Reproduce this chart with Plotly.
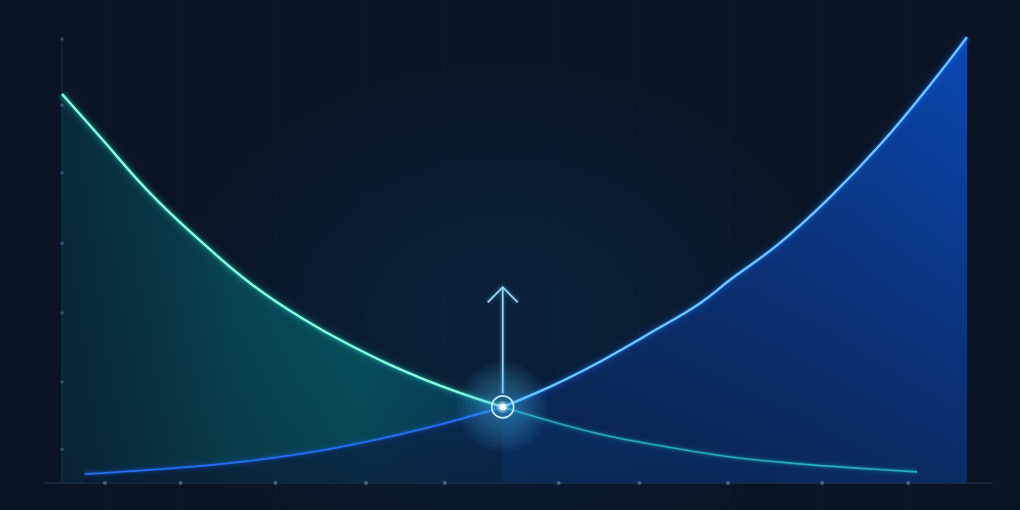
import plotly.graph_objects as go

# ---- data (abstract units) ----
x_green = [0, 0.42, 0.97, 1.52, 2.08, 2.63, 3.18, 4.0, 4.87, 5.94, 6.69, 7.41, 8.15, 8.9, 9.45]
y_green = [87.4, 77.8, 65.2, 54.6, 44.9, 37.3, 31.0, 23.3, 17.1, 11.0, 8.1, 5.8, 4.3, 3.2, 2.5]
x_blue = [0.25, 1, 2, 3, 4, 4.87, 5.39, 5.94, 6.5, 7.05, 7.38, 7.93, 8.49, 9.04, 9.59, 10.0]
y_blue = [2.0, 3.0, 4.8, 7.8, 12.2, 17.1, 21.6, 27.2, 33.7, 40.4, 45.6, 53.9, 64.3, 76.0, 89.4, 100.2]
x_ticks = [0.475, 1.31, 2.36, 3.36, 4.23, 5.49, 6.38, 7.36, 8.40, 9.35]
y_ticks = [7.6, 22.7, 38.2, 53.9, 69.7, 84.9, 99.8]
cross_x, cross_y = 4.87, 17.1
arrow_top = 44.0

BG = "#0a1424"
SM = 1.3
fig = go.Figure()

# soft background glow around the crossing
shapes = []
for k in range(12):
    r = 360 - k * 26
    shapes.append(dict(type="circle", xref="x", yref="y", xsizemode="pixel", ysizemode="pixel",
                       xanchor=cross_x, yanchor=cross_y + 20, x0=-r * 0.9, x1=r * 0.9, y0=-r * 0.7, y1=r * 0.7,
                       fillcolor="rgba(45,95,150,0.018)", line_width=0, layer="below"))
# axis lines
shapes.append(dict(type="line", xref="x", yref="y", x0=-0.19, x1=10.28, y0=0, y1=0,
                   line=dict(color="rgba(70,95,125,0.5)", width=1), layer="below"))
shapes.append(dict(type="line", xref="x", yref="y", x0=0, x1=0, y0=0, y1=100,
                   line=dict(color="rgba(70,95,125,0.4)", width=1), layer="below"))

# ---- fills ----
fig.add_trace(go.Scatter(x=x_green, y=y_green, mode="lines", line=dict(width=0, shape="spline", smoothing=SM),
                         fill="tozeroy",
                         fillgradient=dict(type="horizontal", colorscale=[
                             [0, "rgba(5,75,95,0.4)"], [0.2, "rgba(5,115,125,0.58)"],
                             [0.35, "rgba(5,130,135,0.62)"], [0.5, "rgba(5,105,155,0.5)"],
                             [1, "rgba(10,70,150,0.05)"]]),
                         hoverinfo="skip", showlegend=False))
fig.add_trace(go.Scatter(x=x_blue, y=y_blue, mode="lines", line=dict(width=0, shape="spline", smoothing=SM),
                         fill="tozeroy",
                         fillgradient=dict(type="horizontal", colorscale=[
                             [0, "rgba(10,70,170,0.08)"], [0.45, "rgba(10,75,190,0.45)"],
                             [1, "rgba(10,85,215,0.8)"]]),
                         hoverinfo="skip", showlegend=False))
# vertical darkening overlays
fig.add_trace(go.Scatter(x=x_blue, y=y_blue, mode="lines", line=dict(width=0, shape="spline", smoothing=SM),
                         fill="tozeroy",
                         fillgradient=dict(type="vertical", colorscale=[
                             [0, "rgba(10,20,36,0.55)"], [1, "rgba(10,20,36,0)"]]),
                         hoverinfo="skip", showlegend=False))
fig.add_trace(go.Scatter(x=x_green[:9], y=y_green[:9], mode="lines", line=dict(width=0, shape="spline", smoothing=SM),
                         fill="tozeroy",
                         fillgradient=dict(type="vertical", colorscale=[
                             [0, "rgba(10,20,36,0.3)"], [1, "rgba(10,20,36,0)"]]),
                         hoverinfo="skip", showlegend=False))

# ---- glowing lines ----
def glow_line(xs, ys, core, glow, width, alpha=1.0):
    for w, a in [(width * 7, 0.045), (width * 4, 0.1), (width * 2.2, 0.22)]:
        fig.add_trace(go.Scatter(x=xs, y=ys, mode="lines",
                                 line=dict(color=f"rgba({glow},{a * alpha})", width=w, shape="spline", smoothing=SM),
                                 hoverinfo="skip", showlegend=False))
    fig.add_trace(go.Scatter(x=xs, y=ys, mode="lines",
                             line=dict(color=f"rgba({core},{alpha})", width=width, shape="spline", smoothing=SM),
                             hoverinfo="skip", showlegend=False))

i = x_green.index(cross_x)
glow_line(x_green[:i + 1], y_green[:i + 1], "140,250,225", "30,220,190", 2.4)
glow_line(x_green[i:], y_green[i:], "45,190,200", "30,180,210", 1.6, 0.85)
j = x_blue.index(cross_x)
glow_line(x_blue[:j + 1], y_blue[:j + 1], "40,115,255", "30,100,255", 1.8, 0.9)
glow_line(x_blue[j:], y_blue[j:], "110,200,255", "30,120,255", 2.4)

# ---- arrow ----
ax_x = [cross_x, cross_x, None, cross_x - 0.166, cross_x, cross_x + 0.166]
ax_y = [cross_y + 3, arrow_top, None, arrow_top - 3.4, arrow_top, arrow_top - 3.4]
for w, a in [(10, 0.05), (5, 0.12)]:
    fig.add_trace(go.Scatter(x=ax_x, y=ax_y, mode="lines", line=dict(color=f"rgba(90,200,255,{a})", width=w),
                             hoverinfo="skip", showlegend=False))
fig.add_trace(go.Scatter(x=ax_x, y=ax_y, mode="lines", line=dict(color="rgba(160,225,255,0.95)", width=1.8),
                         hoverinfo="skip", showlegend=False))

# ---- crossing marker ----
for s in range(90, 14, -8):
    fig.add_trace(go.Scatter(x=[cross_x], y=[cross_y], mode="markers",
                             marker=dict(size=s, color="rgba(70,200,255,0.05)", line_width=0),
                             hoverinfo="skip", showlegend=False))
fig.add_trace(go.Scatter(x=[cross_x], y=[cross_y], mode="markers",
                         marker=dict(size=22, symbol="circle-open", color="rgba(200,245,255,0.95)",
                                     line=dict(width=1.6, color="rgba(200,245,255,0.95)")),
                         hoverinfo="skip", showlegend=False))
fig.add_trace(go.Scatter(x=[cross_x], y=[cross_y], mode="markers",
                         marker=dict(size=12, color="rgba(220,250,255,0.35)", line_width=0),
                         hoverinfo="skip", showlegend=False))
fig.add_trace(go.Scatter(x=[cross_x], y=[cross_y], mode="markers",
                         marker=dict(size=7, color="white", line_width=0),
                         hoverinfo="skip", showlegend=False))

# ---- tick dots ----
fig.add_trace(go.Scatter(x=x_ticks, y=[0] * len(x_ticks), mode="markers",
                         marker=dict(size=4, color="rgba(90,125,155,0.7)"), hoverinfo="skip", showlegend=False))
fig.add_trace(go.Scatter(x=[0] * len(y_ticks), y=y_ticks, mode="markers",
                         marker=dict(size=3.5, color="rgba(80,110,140,0.6)"), hoverinfo="skip", showlegend=False))

fig.update_layout(
    width=1020, height=510, margin=dict(l=0, r=0, t=0, b=0),
    paper_bgcolor=BG, plot_bgcolor=BG, shapes=shapes,
    xaxis=dict(range=[-0.685, 10.586], showgrid=True, gridcolor="rgba(80,110,150,0.05)",
               tickvals=x_ticks, showticklabels=False, zeroline=False, fixedrange=True),
    yaxis=dict(range=[-6.07, 108.54], showgrid=False, showticklabels=False, zeroline=False, fixedrange=True),
)
fig.write_html("out.html", config={"displayModeBar": False},
               post_script="document.body.style.margin='0';document.body.style.background='#0a1424';")
